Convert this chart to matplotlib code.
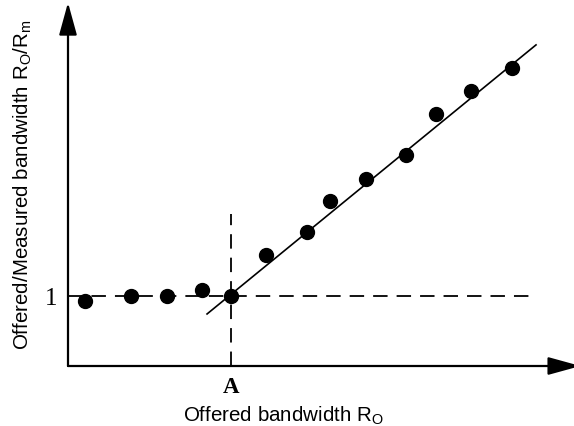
import matplotlib.pyplot as plt

plt.rcParams['font.family'] = ['Liberation Sans', 'DejaVu Sans']
plt.rcParams['mathtext.fontset'] = 'custom'
plt.rcParams['mathtext.rm'] = 'Liberation Sans'

# measured points (x in units of A, y = offered/measured ratio)
pts_x = [0.104, 0.387, 0.607, 0.822, 1.0, 1.215, 1.466, 1.607, 1.828, 2.074, 2.258, 2.472, 2.724]
pts_y = [0.929, 1.0, 1.0, 1.086, 1.0, 1.586, 1.914, 2.357, 2.671, 3.014, 3.6, 3.929, 4.257]

# fitted line through the rising part
fit_x = [0.853, 2.871]
fit_y = [0.743, 4.586]

A_pos = 1.0
ref_level = 1.0
vline_top = 2.171
hline_end = 2.834
xmax = 3.104
ymax = 5.17

fig = plt.figure(figsize=(5.74, 4.27), dpi=100)
ax = fig.add_axes([68/574, 60/427, 506/574, 362/427])
ax.set_xlim(0, xmax)
ax.set_ylim(0, ymax)
for s in ax.spines.values():
    s.set_visible(False)
ax.set_xticks([])
ax.set_yticks([])

dash = (0, (8, 5))
ax.plot([0, hline_end], [ref_level, ref_level], color='black', lw=1.3, ls=dash)
ax.plot([A_pos, A_pos], [0, vline_top], color='black', lw=1.3, ls=dash)
ax.plot(fit_x, fit_y, color='black', lw=1.2)
ax.plot(pts_x, pts_y, 'o', color='black', ms=10, zorder=5)

# axes with arrow heads
arrow = dict(arrowstyle='-|>,head_length=2.0,head_width=0.55', color='black', lw=1.6,
             shrinkA=0, shrinkB=0)
ax.annotate('', xy=(xmax + 0.04, 0), xytext=(0, 0), arrowprops=arrow, annotation_clip=False)
ax.annotate('', xy=(0, ymax + 0.02), xytext=(0, 0), arrowprops=arrow, annotation_clip=False)

ax.text(-0.067, 0.886, '1', family='Liberation Serif', fontsize=18,
        ha='right', va='baseline')
ax.text(A_pos, -0.371, 'A', family='Liberation Serif', fontsize=16.5, fontweight='bold',
        ha='center', va='baseline')

ax.text(1.319, -0.771, r'Offered bandwidth R$_\mathrm{O}$', fontsize=14.8,
        ha='center', va='baseline')
ax.text(-0.28, 2.6, r'Offered/Measured bandwidth R$_\mathrm{O}$/R$_\mathrm{m}$', fontsize=14.8,
        rotation=90, ha='center', va='center')

fig.savefig('out.png', dpi=100)
